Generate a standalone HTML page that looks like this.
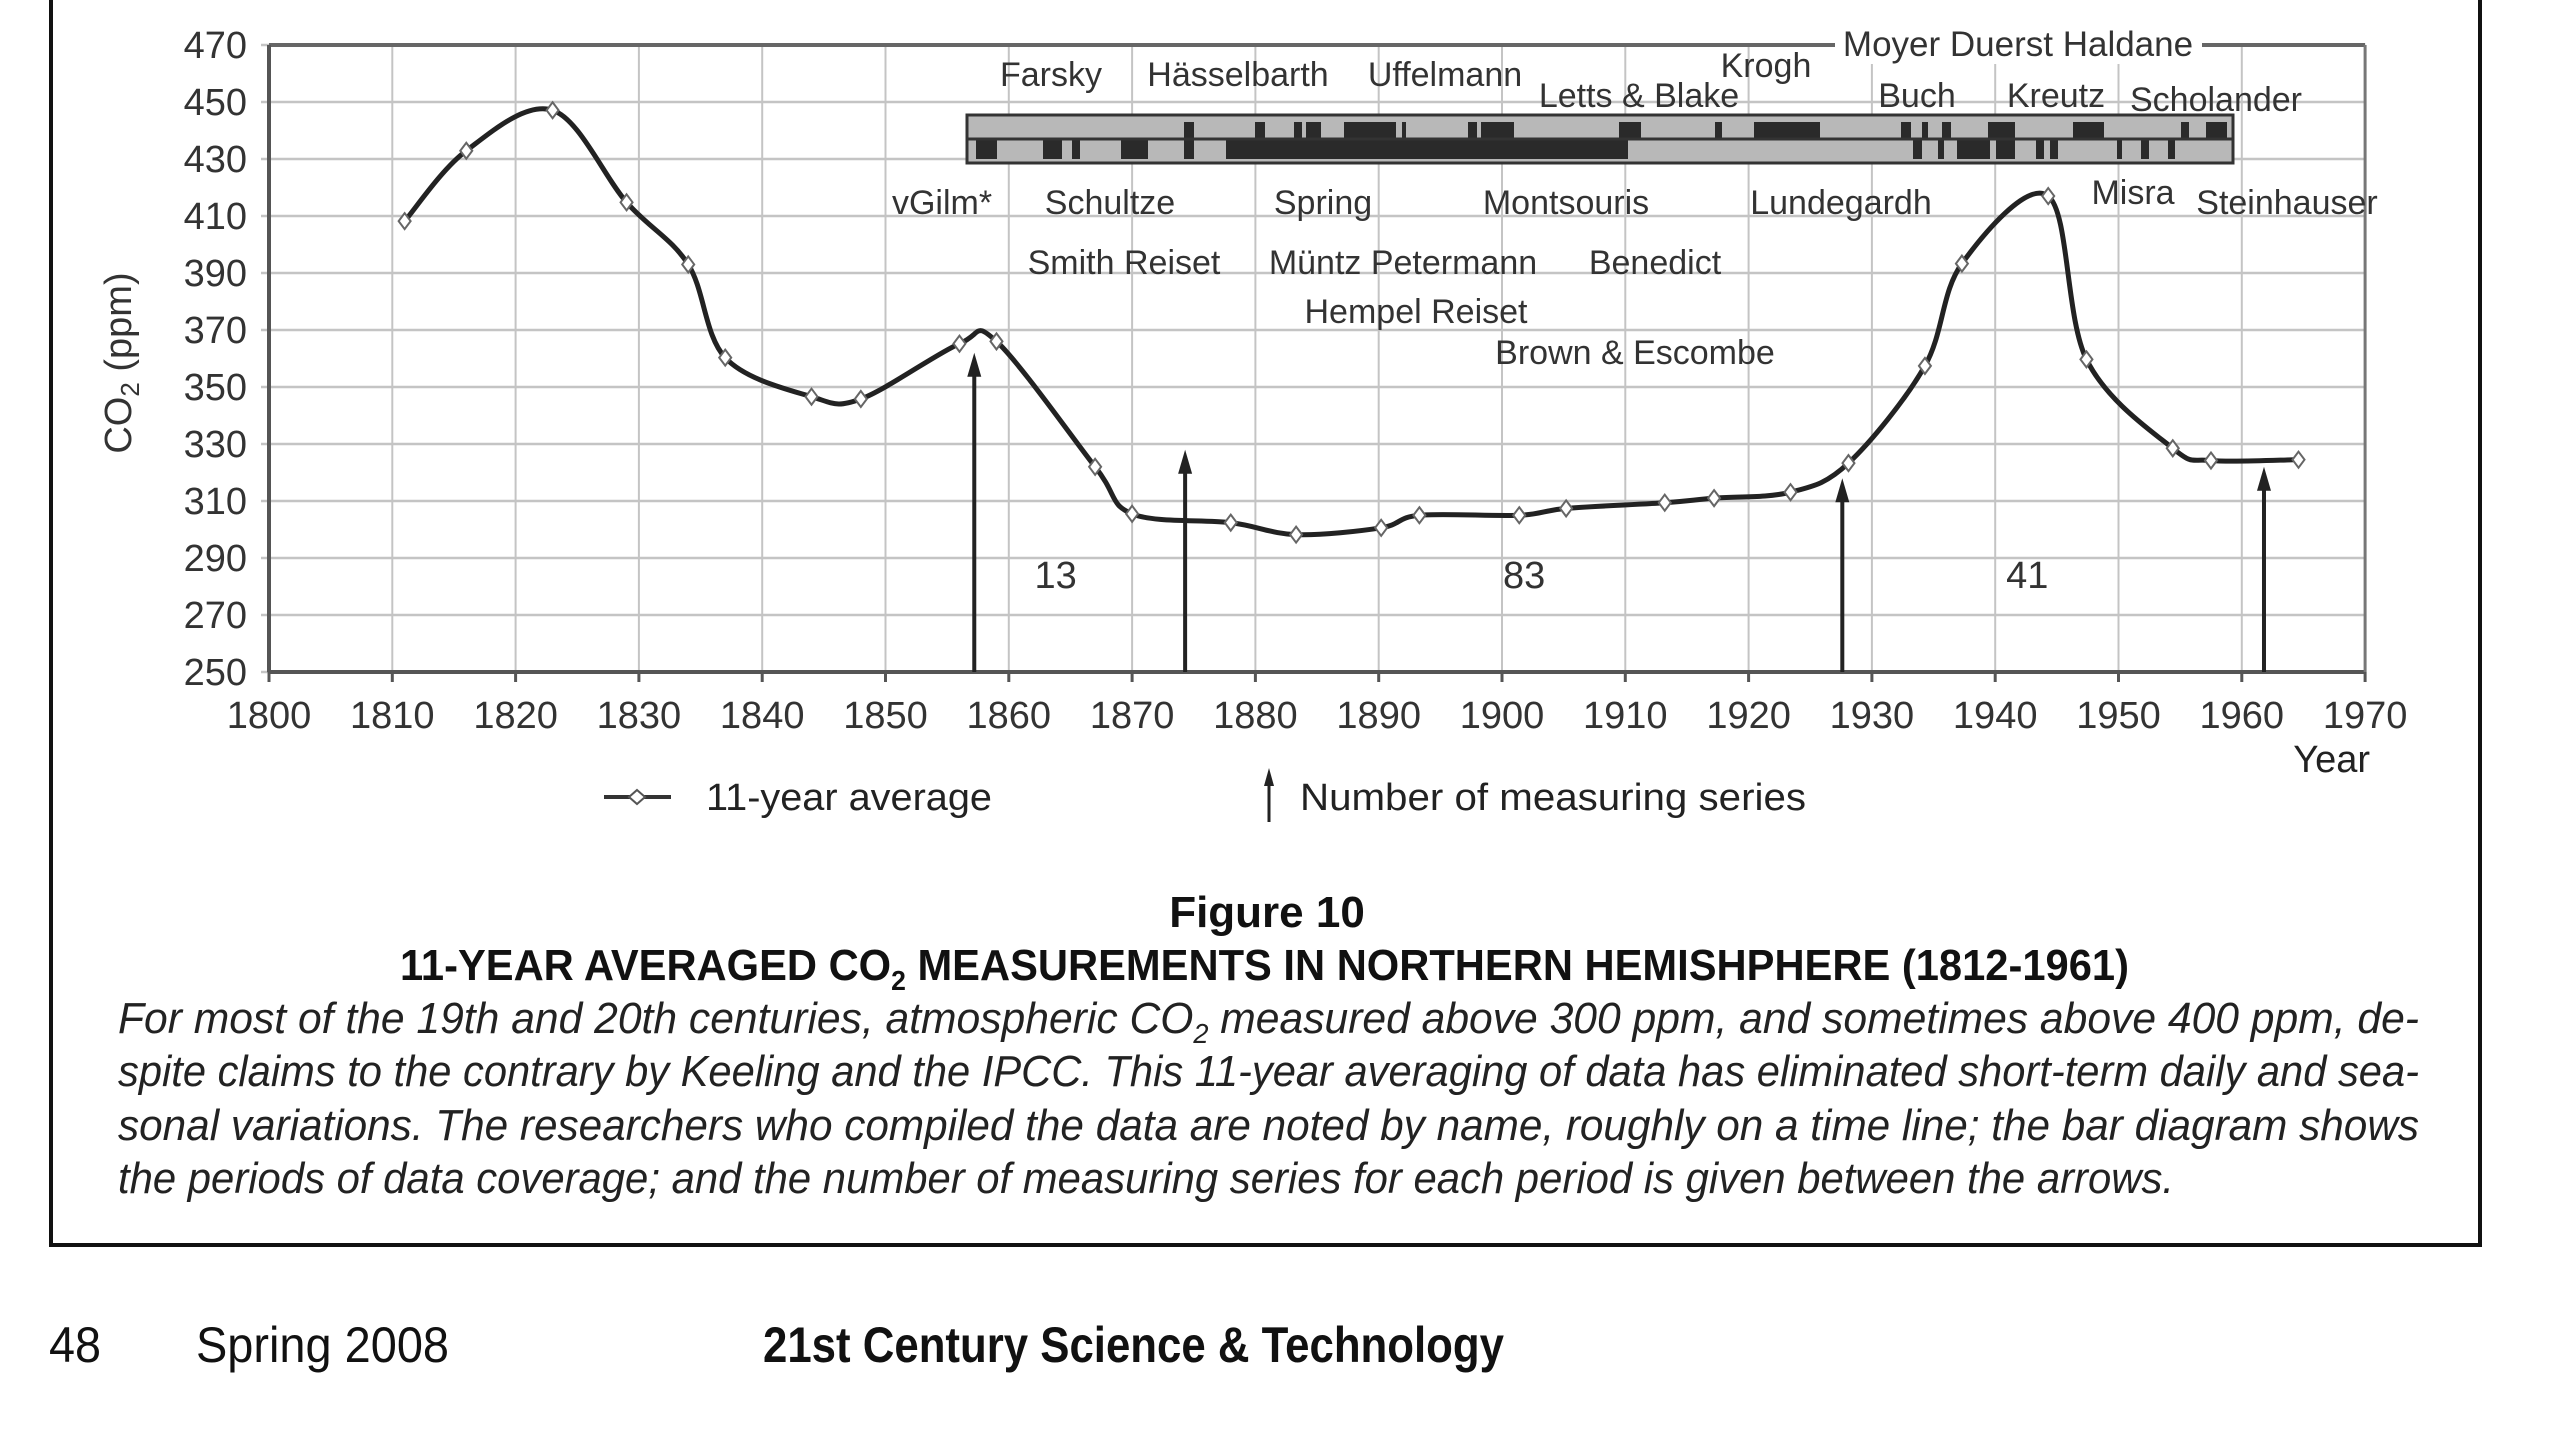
<!DOCTYPE html>
<html><head><meta charset="utf-8"><style>
html,body{margin:0;padding:0;background:#fff;}
svg{display:block;}
text{font-family:"Liberation Sans",sans-serif;}
</style></head><body>
<svg id="chart" width="2560" height="1441" viewBox="0 0 2560 1441" xmlns="http://www.w3.org/2000/svg">
<rect x="0" y="0" width="2560" height="1441" fill="#fff"/>
<path d="M51 0 V1245 H2480 V0" fill="none" stroke="#111" stroke-width="4"/>
<g id="grid"></g>
<g id="axes"></g>
<g id="bars"></g>
<g id="names"></g>
<g id="series"></g>
<g id="arrows"></g>
<text x="131" y="363" transform="rotate(-90 131 363)" text-anchor="middle" font-size="38" fill="#333">CO<tspan font-size="26" dy="8">2</tspan><tspan dy="-8"> (ppm)</tspan></text>
<text x="2370" y="772" text-anchor="end" font-size="38" fill="#222">Year</text>
<g>
<line x1="604" y1="797" x2="671" y2="797" stroke="#333" stroke-width="4"/>
<path d="M637 790 L645 797 L637 804 L629 797 Z" fill="#fff" stroke="#555" stroke-width="2"/>
<text x="706" y="810" font-size="38" fill="#222" textLength="286" lengthAdjust="spacingAndGlyphs">11-year average</text>
</g>
<g>
<line x1="1269" y1="822" x2="1269" y2="780" stroke="#222" stroke-width="3"/>
<path d="M1264 786 L1269 768 L1274 786 Z" fill="#222"/>
<text x="1300" y="810" font-size="38" fill="#222" textLength="506" lengthAdjust="spacingAndGlyphs">Number of measuring series</text>
</g>
<text x="1267" y="927" text-anchor="middle" font-size="44" font-weight="bold" fill="#111">Figure 10</text>
<text x="400" y="980" font-size="44" font-weight="bold" fill="#111" textLength="1729" lengthAdjust="spacingAndGlyphs">11-YEAR AVERAGED CO<tspan font-size="28" dy="10">2</tspan><tspan dy="-10"> MEASUREMENTS IN NORTHERN HEMISHPHERE (1812-1961)</tspan></text>
<g font-size="44" font-style="italic" fill="#222">
<text x="118" y="1033" textLength="2301" lengthAdjust="spacingAndGlyphs">For most of the 19th and 20th centuries, atmospheric CO<tspan font-size="28" dy="10">2</tspan><tspan dy="-10"> measured above 300 ppm, and sometimes above 400 ppm, de-</tspan></text>
<text x="118" y="1086" textLength="2301" lengthAdjust="spacingAndGlyphs">spite claims to the contrary by Keeling and the IPCC. This 11-year averaging of data has eliminated short-term daily and sea-</text>
<text x="118" y="1140" textLength="2301" lengthAdjust="spacingAndGlyphs">sonal variations. The researchers who compiled the data are noted by name, roughly on a time line; the bar diagram shows</text>
<text x="118" y="1193" textLength="2056" lengthAdjust="spacingAndGlyphs">the periods of data coverage; and the number of measuring series for each period is given between the arrows.</text>
</g>
<g font-size="50" fill="#111">
<text x="49" y="1362" textLength="52" lengthAdjust="spacingAndGlyphs">48</text>
<text x="196" y="1362" textLength="253" lengthAdjust="spacingAndGlyphs">Spring 2008</text>
<text x="763" y="1362" font-weight="bold" textLength="741" lengthAdjust="spacingAndGlyphs">21st Century Science &amp; Technology</text>
</g>
</svg>
<script>
const years = [1811,1816,1823,1829,1834,1837,1844,1848,1856,1859,1867,1870,1878,1883.3,1890.2,1893.3,1901.4,1905.2,1913.2,1917.2,1923.4,1928.1,1934.3,1937.3,1944.3,1947.4,1954.4,1957.5,1964.6];
const ppm = [408.2,432.9,447.1,414.8,393,360.3,346.6,345.8,365.2,366,322,305.5,302.4,298.2,300.6,305,305,307.4,309.4,311,313.1,323.3,357.4,393.3,417,359.7,328.5,324.2,324.5];
const yTicks = [250,270,290,310,330,350,370,390,410,430,450,470];
const xTicks = [1800,1810,1820,1830,1840,1850,1860,1870,1880,1890,1900,1910,1920,1930,1940,1950,1960,1970];
const arrowYears = [1857.2,1874.3,1927.6,1961.8];
const arrowTips = [362,328,318,322];
const countLabels = ["13","83","41"];
const countYears = [1863.8,1901.8,1942.6];
const countPpm = [284,284,284];
const topRowX = [[1184,1194],[1255,1265],[1294,1302],[1306,1321],[1344,1396],[1402,1406],[1468,1477],[1481,1514],[1619,1641],[1715,1722],[1754,1820],[1901,1911],[1922,1928],[1942,1951],[1988,2015],[2073,2104],[2181,2189],[2206,2227]];
const bottomRowX = [[976,997],[1043,1062],[1072,1080],[1121,1148],[1184,1194],[1226,1628],[1913,1922],[1938,1944],[1957,1990],[1996,2015],[2036,2044],[2050,2058],[2117,2122],[2141,2149],[2168,2175]];
const nameLabels = ["Farsky","Hässelbarth","Uffelmann","Letts & Blake","Krogh","Buch","Kreutz","Scholander","vGilm*","Schultze","Spring","Montsouris","Lundegardh","Misra","Steinhauser","Smith  Reiset","Müntz  Petermann","Benedict","Hempel Reiset","Brown & Escombe"];
const nameX = [1051,1238,1445,1639,1766,1917,2056,2216,942,1110,1323,1566,1841,2133,2287,1124,1403,1655,1416,1635];
const nameY = [86,86,86,107,77,107,107,111,214,214,214,214,214,204,214,274,274,274,323,364];

const X0=269, XW=123.3, Y0=45, YS=57.0;
const sx = y => X0 + (y-1800)/10*XW;
const sy = v => Y0 + (470-v)/20*YS;
const NS="http://www.w3.org/2000/svg";
function mk(tag, attrs, parent){const e=document.createElementNS(NS,tag);for(const k in attrs)e.setAttribute(k,attrs[k]);parent.appendChild(e);return e;}
const grid=document.getElementById('grid'), axes=document.getElementById('axes');
yTicks.forEach(v=>{
  const l=mk('line',{x1:sx(1800)-8,x2:sx(1970),y1:sy(v),y2:sy(v),stroke:'#c4c4c4','stroke-width':2.5},grid);
  
  
  const t=mk('text',{x:247,y:sy(v)+13,'text-anchor':'end','font-size':38,fill:'#333'},axes);
  t.textContent=v;
  
  
});
xTicks.forEach(y=>{
  const l=mk('line',{x1:sx(y),x2:sx(y),y1:sy(470),y2:sy(250)+8,stroke:'#c4c4c4','stroke-width':2},grid);
  
  
  const t=mk('text',{x:sx(y),y:728,'text-anchor':'middle','font-size':38,fill:'#333'},axes);
  t.textContent=y;
  
  
});
mk('line',{x1:sx(1800),x2:sx(1970),y1:sy(470),y2:sy(470),stroke:'#666','stroke-width':4},axes);
mk('line',{x1:sx(1800),x2:sx(1970),y1:sy(250),y2:sy(250),stroke:'#555','stroke-width':4},axes);
mk('line',{x1:sx(1800),x2:sx(1800),y1:sy(470),y2:sy(250),stroke:'#555','stroke-width':4},axes);
mk('line',{x1:sx(1970),x2:sx(1970),y1:sy(470),y2:sy(250),stroke:'#777','stroke-width':3},axes);
xTicks.forEach(y=>mk('line',{x1:sx(y),x2:sx(y),y1:sy(250),y2:sy(250)+10,stroke:'#555','stroke-width':3},axes));
const mb=mk('rect',{x:1835,y:28,width:367,height:36,fill:'#fff'},axes);
const mt=mk('text',{x:2018,y:56,'text-anchor':'middle','font-size':35,fill:'#333'},axes);
mt.textContent='Moyer Duerst Haldane';


const bars=document.getElementById('bars');
const box=mk('rect',{x:967,y:115,width:1266,height:48,fill:'#b8b8b8',stroke:'#333','stroke-width':3},bars);


topRowX.forEach(r=>{const b=mk('rect',{x:r[0],y:122,width:r[1]-r[0],height:18,fill:'#2a2a2a'},bars);
  
  });
bottomRowX.forEach(r=>{const b=mk('rect',{x:r[0],y:139,width:r[1]-r[0],height:20,fill:'#2a2a2a'},bars);
  
  });
mk('line',{x1:967,x2:2233,y1:139,y2:139,stroke:'#333','stroke-width':3},bars);
const names=document.getElementById('names');
nameLabels.forEach((n,i)=>{
  const t=mk('text',{x:nameX[i],y:nameY[i],'text-anchor':'middle','font-size':34,fill:'#333','xml:space':'preserve'},names);
  t.textContent=n;
  
  
});
const g=document.getElementById('series');
const P=years.map((y,i)=>[sx(y),sy(ppm[i])]);
let d='M'+P[0][0]+' '+P[0][1];
for(let i=0;i<P.length-1;i++){
  const p0=P[i-1]||P[i],p1=P[i],p2=P[i+1],p3=P[i+2]||P[i+1];
  const c1=[p1[0]+(p2[0]-p0[0])/6,p1[1]+(p2[1]-p0[1])/6];
  const c2=[p2[0]-(p3[0]-p1[0])/6,p2[1]-(p3[1]-p1[1])/6];
  d+=` C${c1[0]} ${c1[1]} ${c2[0]} ${c2[1]} ${p2[0]} ${p2[1]}`;
}
const line=mk('path',{d:d,fill:'none',stroke:'#222','stroke-width':5,'stroke-linejoin':'round'},g);


P.forEach(p=>{
  const m=mk('path',{d:`M${p[0]} ${p[1]-8} L${p[0]+6} ${p[1]} L${p[0]} ${p[1]+8} L${p[0]-6} ${p[1]} Z`,fill:'#fff',stroke:'#666','stroke-width':2},g);
  
  
});
const ag=document.getElementById('arrows');
arrowYears.forEach((y,i)=>{
  const x=sx(y), tip=sy(arrowTips[i]);
  const l=mk('line',{x1:x,x2:x,y1:sy(250),y2:tip+14,stroke:'#222','stroke-width':4},ag);
  
  
  mk('path',{d:`M${x-7} ${tip+24} L${x} ${tip} L${x+7} ${tip+24} Z`,fill:'#222'},ag);
});
countLabels.forEach((c,i)=>{
  const t=mk('text',{x:sx(countYears[i]),y:sy(countPpm[i])+13,'text-anchor':'middle','font-size':38,fill:'#333'},ag);
  t.textContent=c;
  
  
});
</script>
</body></html>
